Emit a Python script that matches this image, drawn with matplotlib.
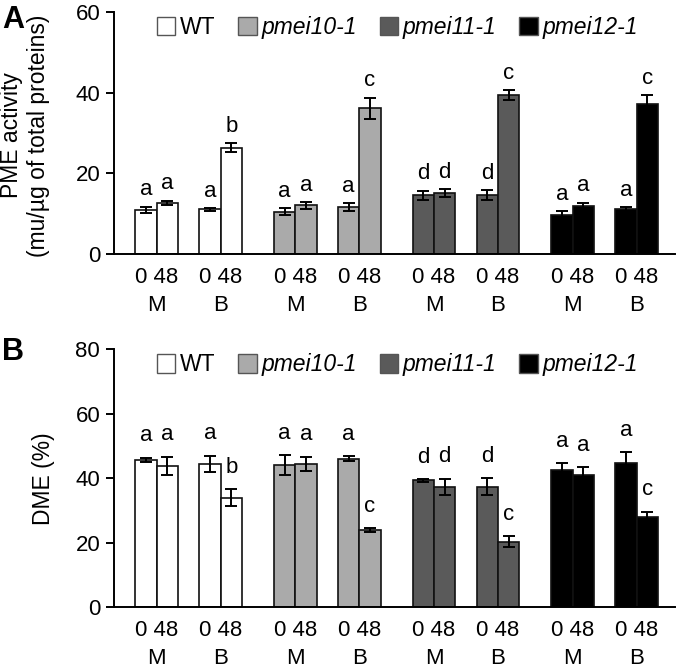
import matplotlib
matplotlib.use("Agg")
import matplotlib.pyplot as plt
from matplotlib.patches import Patch
import numpy as np

plt.rcParams['font.family'] = ['Liberation Sans', 'DejaVu Sans']

genotypes = ["WT", "pmei10-1", "pmei11-1", "pmei12-1"]
colors = ["#ffffff", "#aaaaaa", "#5a5a5a", "#000000"]
tissues = ["M", "B"]
times = ["0", "48"]

# order: for each genotype: M0, M48, B0, B48
pme_vals = [11.0, 12.7, 11.1, 26.4,
            10.5, 12.1, 11.7, 36.2,
            14.6, 15.1, 14.7, 39.4,
            9.8, 12.0, 11.1, 37.2]
pme_err = [0.8, 0.5, 0.3, 1.1,
           0.9, 0.8, 1.0, 2.6,
           1.1, 1.0, 1.2, 1.2,
           0.8, 0.8, 0.6, 2.2]
pme_letters = ["a", "a", "a", "b", "a", "a", "a", "c",
               "d", "d", "d", "c", "a", "a", "a", "c"]

dme_vals = [45.7, 43.8, 44.5, 34.0,
            44.1, 44.5, 46.1, 24.0,
            39.3, 37.4, 37.4, 20.3,
            42.6, 41.0, 44.8, 28.1]
dme_err = [0.7, 2.9, 2.5, 2.7,
           3.0, 2.2, 0.8, 0.6,
           0.5, 2.5, 2.7, 1.8,
           2.0, 2.4, 3.2, 1.5]
dme_letters = ["a", "a", "a", "b", "a", "a", "a", "c",
               "d", "d", "d", "c", "a", "a", "a", "c"]

fig = plt.figure(figsize=(6.79, 6.69), dpi=100)
axA = fig.add_axes([0.168, 0.620, 0.826, 0.362])
axB = fig.add_axes([0.168, 0.0927, 0.826, 0.385])

# bar positions
pair_centers = []
bar_x = []
bar_c = []
pos = 0.0
for gi, g in enumerate(genotypes):
    for ti, t in enumerate(tissues):
        pair_centers.append(pos)
        bar_x += [pos - 0.5, pos + 0.5]
        bar_c += [colors[gi], colors[gi]]
        pos += 3.0
    pos += 0.5
bar_x = np.array(bar_x)

FS = 16

def draw(ax, vals, errs, letters, ymax, step, offset, legy):
    ax.bar(bar_x, vals, width=1.0, color=bar_c, edgecolor="#111111",
           linewidth=1.2, zorder=2)
    ax.errorbar(bar_x, vals, yerr=errs, fmt='none', ecolor='black',
                elinewidth=1.4, capsize=4.5, capthick=1.4, zorder=3)
    for x, v, e, l in zip(bar_x, vals, errs, letters):
        ax.text(x, v + e + offset, l, ha='center', va='bottom', fontsize=FS)
    ax.set_ylim(0, ymax)
    ax.set_xlim(-2.0, 24.3)
    ax.set_yticks(np.arange(0, ymax + 1, step))
    ax.set_xticks(pair_centers)
    ax.set_xticklabels([f"{times[0]} {times[1]}\n{tissues[i % 2]}"
                        for i in range(len(pair_centers))], linespacing=1.42)
    ax.tick_params(axis='x', length=0, labelsize=FS, pad=9.5)
    ax.tick_params(axis='y', direction='out', length=6, width=1.4,
                   labelsize=FS, pad=4)
    for s in ['top', 'right']:
        ax.spines[s].set_visible(False)
    for s in ['left', 'bottom']:
        ax.spines[s].set_linewidth(1.4)
    handles = [Patch(facecolor=c, edgecolor="#555555", linewidth=1.0)
               for c in colors]
    leg = ax.legend(handles, genotypes, loc='center',
                    bbox_to_anchor=(0.505, legy),
                    ncol=4, frameon=False, fontsize=16.5, handlelength=0.8,
                    handleheight=0.85, handletextpad=0.2, columnspacing=1.0,
                    borderaxespad=0)
    for i, t in enumerate(leg.get_texts()):
        if i > 0:
            t.set_style('italic')

draw(axA, pme_vals, pme_err, pme_letters, 60, 20, 1.6, 0.935)
draw(axB, dme_vals, dme_err, dme_letters, 80, 20, 3.5, 0.94)

axA.text(-0.182, 0.49, "PME activity", rotation=90, ha='center', va='center',
         fontsize=16.5, transform=axA.transAxes)
axA.text(-0.1355, 0.49, "(mu/µg of total proteins)", rotation=90,
         ha='center', va='center', fontsize=16.5, transform=axA.transAxes)
axB.text(-0.125, 0.5, "DME (%)", rotation=90, ha='center', va='center',
         fontsize=16.5, transform=axB.transAxes)

fig.text(0.003, 0.993, "A", fontsize=22, fontweight='bold', va='top', ha='left')
fig.text(0.003, 0.497, "B", fontsize=22, fontweight='bold', va='top', ha='left')

fig.savefig("out.png", dpi=100)
